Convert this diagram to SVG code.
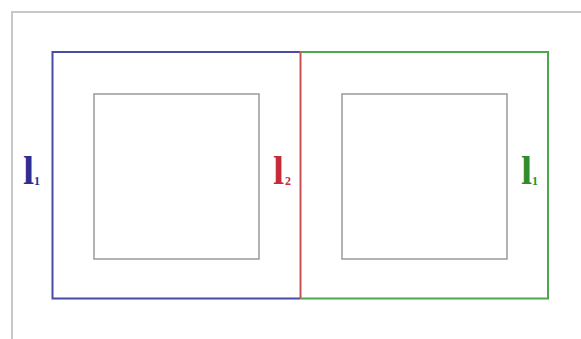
<svg xmlns="http://www.w3.org/2000/svg" width="581" height="339" viewBox="0 0 581 339">
<style>
.lbl{font-family:"Liberation Serif",serif;font-weight:bold;font-size:40px}
.sub{font-family:"Liberation Serif",serif;font-weight:bold;font-size:12px}
.inner{fill:none;stroke:#9a9a9a;stroke-width:1.5}
</style>
<rect width="581" height="339" fill="#fff"/>
<path d="M12,339 V12 H581" fill="none" stroke="#c8c8c8" stroke-width="2"/>
<g id="left-loop">
<path d="M300.5,52 H52.5 V298.5 H300.5" fill="none" stroke="#4a4aa8" stroke-width="2"/>
</g>
<g id="right-loop">
<path d="M300.5,52 H548 V298.5 H300.5" fill="none" stroke="#4ea64e" stroke-width="2"/>
</g>
<g id="middle-branch">
<line x1="300.5" y1="52" x2="300.5" y2="298.5" stroke="#c85050" stroke-width="2"/>
</g>
<g id="inner-left"><rect class="inner" x="94" y="94" width="165" height="165"/></g>
<g id="inner-right"><rect class="inner" x="342" y="94" width="165" height="165"/></g>
<g id="label-l1-left" fill="#2e2e92"><text class="lbl" x="23" y="184">l</text><text class="sub" x="34" y="185">1</text></g>
<g id="label-l2" fill="#c42c3c"><text class="lbl" x="273" y="184">l</text><text class="sub" x="285" y="185">2</text></g>
<g id="label-l1-right" fill="#2e8e2e"><text class="lbl" x="521" y="184">l</text><text class="sub" x="532" y="185">1</text></g>
</svg>
